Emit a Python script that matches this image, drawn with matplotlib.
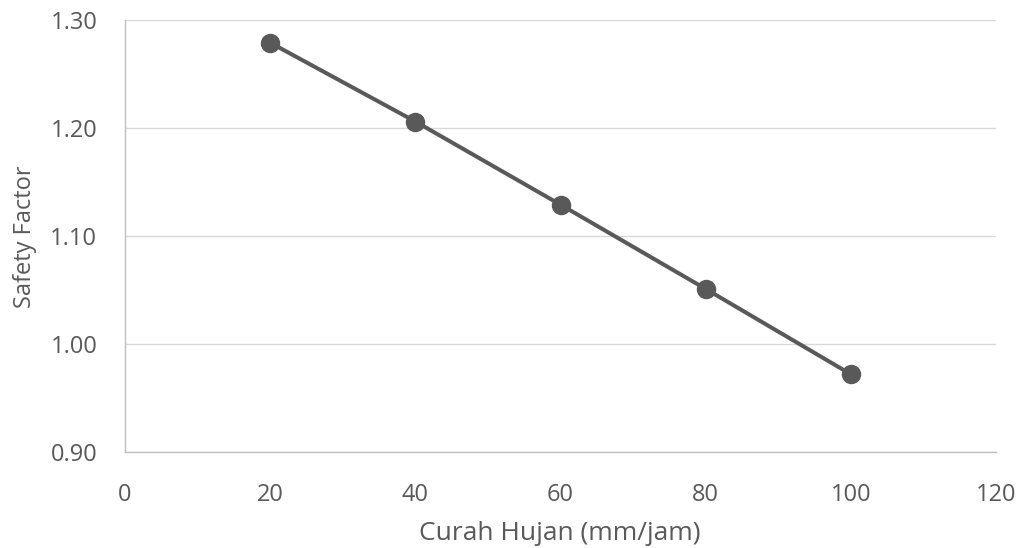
import matplotlib
matplotlib.use("Agg")
import matplotlib.pyplot as plt

curah_hujan = [20, 40, 60, 80, 100]
safety_factor = [1.279, 1.206, 1.129, 1.051, 0.972]
x_ticks = [0, 20, 40, 60, 80, 100, 120]
y_ticks = [0.90, 1.00, 1.10, 1.20, 1.30]

plt.rcParams['font.family'] = ['Open Sans', 'DejaVu Sans']
gray = '#595959'

fig = plt.figure(figsize=(10.21, 5.48), dpi=100)
ax = fig.add_axes([125/1021, 1-452/548, 871/1021, 432/548])

ax.plot(curah_hujan, safety_factor, color=gray, linewidth=2.9, marker='o',
        markersize=13, markerfacecolor=gray, markeredgecolor=gray, zorder=3)

ax.set_xlim(0, 120)
ax.set_ylim(0.90, 1.30)
ax.set_xticks(x_ticks)
ax.set_yticks(y_ticks)
ax.set_yticklabels([f"{v:.2f}" for v in y_ticks])
ax.grid(axis='y', color='#d9d9d9', linewidth=1)
ax.set_axisbelow(True)

for s in ['top', 'right']:
    ax.spines[s].set_visible(False)
for s in ['left', 'bottom']:
    ax.spines[s].set_color('#bfbfbf')
    ax.spines[s].set_linewidth(1)

ax.tick_params(axis='both', length=0, labelsize=17, labelcolor=gray)
ax.tick_params(axis='x', pad=22)
ax.tick_params(axis='y', pad=20)

ax.set_xlabel('Curah Hujan (mm/jam)', fontsize=19, color=gray, va='center')
ax.set_ylabel('Safety Factor', fontsize=17, color=gray, va='center')
ax.xaxis.set_label_coords((560 - 125) / 871, (452 - 533) / 432)
ax.yaxis.set_label_coords((25 - 125) / 871, (452 - 237) / 432)

fig.savefig('out.png', dpi=100)
